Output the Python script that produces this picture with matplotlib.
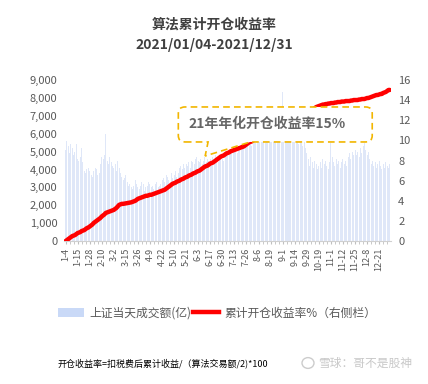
import matplotlib
matplotlib.use('Agg')
import matplotlib.pyplot as plt
from matplotlib.path import Path
from matplotlib.patches import PathPatch, Patch, Circle
from matplotlib.lines import Line2D
from matplotlib.ticker import FuncFormatter

plt.rcParams['font.family'] = ['Noto Sans CJK SC', 'DejaVu Sans']

# x tick labels (every 9 trading days)
date_labels = ['1-4', '1-15', '1-28', '2-10', '3-2', '3-15', '3-26', '4-9', '4-22',
               '5-10', '5-21', '6-3', '6-17', '6-30', '7-13', '7-26', '8-6', '8-19',
               '9-1', '9-14', '9-29', '10-19', '11-1', '11-12', '11-25', '12-8', '12-21']

# 上证当天成交额 (亿), one value per trading day
volume = [
    5100, 5600, 5300, 4900, 5400, 5200, 4800, 5000, 5400,
    4600, 4500, 4700, 5200, 4400, 3900, 3800, 4000, 4100,
    3900, 3700, 3600, 3900, 4100, 4000, 3700, 3800, 4300,
    4700, 4600, 4800, 6000, 4500, 4300, 4700, 4400, 4200,
    4100, 4300, 3900, 4500, 4100, 3800, 3600, 3400, 3500,
    3700, 3300, 3100, 3200, 3000, 2900, 3100, 3400, 3200,
    3000, 2900, 3100, 3300, 3200, 2800, 3000, 3100, 3300,
    3200, 3000, 3100, 2900, 3200, 3300, 3000, 3100, 3200,
    3400, 3500, 3300, 3700, 3600, 3400, 3300, 3800, 3500,
    3700, 3900, 3600, 3800, 4100, 4200, 4000, 4300, 4100,
    4300, 4200, 4400, 4100, 4500, 4400, 4300, 4600, 4700,
    4500, 4400, 4600, 4300, 4500, 4700, 4400, 4600, 4500,
    4600, 4400, 4700, 4500, 4800, 4600, 4400, 4700, 4800,
    4600, 4500, 4700, 4900, 5000, 4800, 5100, 4900, 5200,
    5000, 5100, 4900, 5200, 5300, 5100, 5400, 5300, 5500,
    5600, 5400, 5700, 5500, 5300, 5600, 5800, 5500, 5700,
    5900, 5600, 5800, 6100, 5700, 5500, 5900, 6200, 5800,
    6000, 5700, 6300, 5900, 5600, 6100, 6400, 5800, 6600,
    8300, 6500, 6100, 5800, 6200, 5900, 5600, 6000, 5700,
    5900, 5600, 5800, 5400, 5700, 5500, 5300, 5600, 5200,
    4900, 4600, 4200, 4700, 4400, 4100, 4500, 4300, 4000,
    4200, 4400, 4100, 4600, 4300, 4500, 4200, 4000, 4400,
    5500, 4700, 4400, 4200, 4600, 4300, 4500, 4100, 4400,
    4600, 4300, 4500, 4200, 4700, 4900, 4600, 5000, 4800,
    5100, 4800, 5000, 4700, 5200, 4900, 5300, 5500, 5100,
    4800, 5000, 4600, 4300, 4500, 4200, 4400, 4100, 4300,
    4500, 4200, 4000, 4300, 4100, 4400, 4200, 4100, 4300,
]

# 累计开仓收益率 %, one value per trading day
cum_return = [
    0.0, 0.1, 0.2, 0.3, 0.4, 0.5, 0.55, 0.6, 0.7,
    0.8, 0.85, 0.9, 1.0, 1.05, 1.1, 1.2, 1.3, 1.35,
    1.45, 1.55, 1.65, 1.8, 1.9, 2.0, 2.1, 2.2, 2.3,
    2.45, 2.55, 2.65, 2.8, 2.85, 2.9, 2.95, 3.0, 3.05,
    3.1, 3.2, 3.3, 3.45, 3.6, 3.65, 3.7, 3.7, 3.72,
    3.75, 3.78, 3.8, 3.82, 3.85, 3.9, 3.95, 4.0, 4.1,
    4.2, 4.25, 4.3, 4.35, 4.4, 4.45, 4.5, 4.5, 4.55,
    4.6, 4.6, 4.65, 4.7, 4.75, 4.8, 4.85, 4.9, 4.95,
    5.0, 5.05, 5.1, 5.2, 5.3, 5.4, 5.5, 5.6, 5.7,
    5.75, 5.8, 5.9, 5.95, 6.0, 6.1, 6.15, 6.2, 6.3,
    6.35, 6.4, 6.5, 6.55, 6.6, 6.7, 6.75, 6.8, 6.9,
    6.95, 7.0, 7.1, 7.2, 7.3, 7.4, 7.45, 7.5, 7.6,
    7.7, 7.75, 7.8, 7.9, 8.0, 8.1, 8.2, 8.3, 8.4,
    8.45, 8.5, 8.6, 8.7, 8.75, 8.8, 8.9, 8.95, 9.0,
    9.05, 9.1, 9.15, 9.2, 9.25, 9.3, 9.35, 9.4, 9.5,
    9.6, 9.7, 9.8, 9.85, 9.9, 10.0, 10.1, 10.15, 10.2,
    10.3, 10.35, 10.4, 10.5, 10.55, 10.6, 10.7, 10.8, 10.85,
    10.9, 11.0, 11.05, 11.1, 11.2, 11.3, 11.35, 11.4, 11.5,
    11.55, 11.6, 11.7, 11.8, 11.85, 11.9, 12.0, 12.05, 12.1,
    12.2, 12.25, 12.3, 12.4, 12.45, 12.5, 12.6, 12.65, 12.7,
    12.8, 12.85, 12.9, 13.0, 13.05, 13.1, 13.2, 13.3, 13.35,
    13.4, 13.45, 13.5, 13.55, 13.55, 13.6, 13.6, 13.65, 13.65,
    13.7, 13.7, 13.7, 13.75, 13.75, 13.8, 13.8, 13.8, 13.85,
    13.85, 13.85, 13.9, 13.9, 13.9, 13.9, 13.95, 13.95, 14.0,
    14.0, 14.0, 14.0, 14.05, 14.05, 14.1, 14.1, 14.1, 14.15,
    14.2, 14.2, 14.25, 14.3, 14.35, 14.4, 14.45, 14.5, 14.5,
    14.55, 14.6, 14.6, 14.7, 14.75, 14.8, 14.9, 15.0, 15.0,
]

x = list(range(len(volume)))
gray = '#595959'

fig = plt.figure(figsize=(4.28, 3.84), dpi=100)
ax = fig.add_axes([0.150, 0.372, 0.764, 0.420])

ax.bar(x, volume, width=0.75, color='#dfe7f8', linewidth=0)
ax.set_xlim(-1, len(x))
ax.set_ylim(0, 9000)
ax.set_yticks(range(0, 9001, 1000))
ax.yaxis.set_major_formatter(FuncFormatter(lambda v, p: f'{int(v):,}'))
ax.tick_params(axis='y', length=0, labelsize=8, colors=gray, pad=5)

ax.set_xticks(x[::9])
ax.set_xticklabels(date_labels, rotation=90, fontsize=6.5, color=gray)
ax.set_xticks(x[::3], minor=True)
ax.tick_params(axis='x', which='both', length=2.5, color='#bfbfbf', pad=2)
for s in ['top', 'left', 'right']:
    ax.spines[s].set_visible(False)
ax.spines['bottom'].set_color('#d0d0d0')

ax2 = ax.twinx()
ax2.plot(x, cum_return, color='#ff0000', lw=3.2, solid_capstyle='round')
ax2.set_ylim(0, 16)
ax2.set_yticks(range(0, 17, 2))
ax2.tick_params(axis='y', length=0, labelsize=8, colors=gray, pad=5)
for s in ax2.spines.values():
    s.set_visible(False)

# callout box with wedge pointer
x0, x1, y0, y1 = 0.349, 0.942, 0.615, 0.832
rx, ry = 0.02, 0.04
tx1, tx2, tipx, tipy = 0.440, 0.569, 0.431, 0.528
verts = [(x0 + rx, y0), (tx1, y0), (tipx, tipy), (tx2, y0), (x1 - rx, y0),
         (x1, y0), (x1, y0 + ry), (x1, y1 - ry), (x1, y1), (x1 - rx, y1),
         (x0 + rx, y1), (x0, y1), (x0, y1 - ry), (x0, y0 + ry), (x0, y0),
         (x0 + rx, y0)]
codes = [Path.MOVETO, Path.LINETO, Path.LINETO, Path.LINETO, Path.LINETO,
         Path.CURVE3, Path.CURVE3, Path.LINETO, Path.CURVE3, Path.CURVE3,
         Path.LINETO, Path.CURVE3, Path.CURVE3, Path.LINETO, Path.CURVE3,
         Path.CURVE3]
box = PathPatch(Path(verts, codes), transform=ax2.transAxes, facecolor='white',
                edgecolor='#f2b600', lw=1.2, linestyle=(0, (4, 2.5)), zorder=10,
                clip_on=False)
ax2.add_patch(box)
ax2.text(0.379, 0.727, '21年年化开仓收益率15%', transform=ax2.transAxes,
         fontsize=10, fontweight='bold', color='#666666', va='center', zorder=11)

fig.text(0.5, 1 - 25 / 384, '算法累计开仓收益率', ha='center', va='center',
         fontsize=10, fontweight='bold', color='#404040')
fig.text(0.5, 1 - 45 / 384, '2021/01/04-2021/12/31', ha='center', va='center',
         fontsize=10, fontweight='bold', color='#404040')

handles = [Patch(facecolor='#c9d9f7', edgecolor='none'),
           Line2D([0], [0], color='#ff0000', lw=3.2)]
fig.legend(handles, ['上证当天成交额(亿)', '累计开仓收益率%（右侧栏）'],
           loc='center', bbox_to_anchor=(0.507, 1 - 313 / 384), ncol=2,
           frameon=False, fontsize=8.5, handlelength=2.2, handletextpad=0.4,
           columnspacing=0.2, labelcolor=gray)

fig.text(58 / 428, 1 - 363 / 384, '开仓收益率=扣税费后累计收益/（算法交易额/2)*100',
         fontsize=6.5, color='black', va='center')
fig.patches.append(Circle((308 / 428, 1 - 363 / 384), 6 / 428, transform=fig.transFigure,
                          facecolor='none', edgecolor='#cccccc', lw=1))
fig.text(318 / 428, 1 - 363 / 384, '雪球：哥不是股神', fontsize=8.5,
         color='#c8c8c8', va='center')

fig.savefig('out.png', dpi=100)
